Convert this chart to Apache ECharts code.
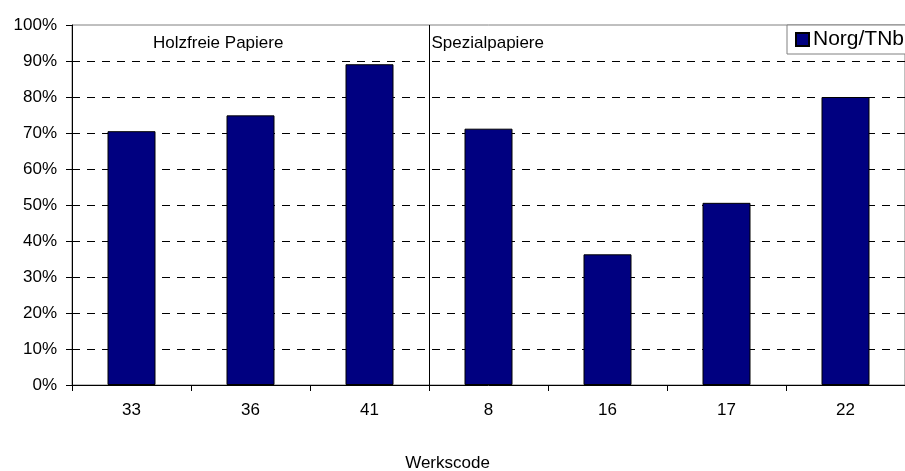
<!DOCTYPE html>
<html>
<head>
<meta charset="utf-8">
<script src="https://cdn.jsdelivr.net/npm/echarts@6/dist/echarts.min.js"></script>
<style>
  html, body { margin: 0; padding: 0; background: #fff; }
  #chart { width: 905px; height: 471px; }
</style>
</head>
<body>
<div id="chart"></div>
<script>
// Werkscode categories and the Norg/TNb share per plant
const categories = ['33', '36', '41', '8', '16', '17', '22'];
const norgTnb = [0.705, 0.749, 0.891, 0.712, 0.363, 0.506, 0.80];
const yTicks = [0, 0.1, 0.2, 0.3, 0.4, 0.5, 0.6, 0.7, 0.8, 0.9, 1.0];
const groupLabels = ['Holzfreie Papiere', 'Spezialpapiere'];
const seriesName = 'Norg/TNb';
const axisTitle = 'Werkscode';

const FONT = 'Liberation Sans, Arial, sans-serif';
const chart = echarts.init(document.getElementById('chart'), null, { renderer: 'canvas' });

// split lines: dashed for every tick, the top one hidden so the gray frame shows
const splitColors = yTicks.map((v, i) => (i === yTicks.length - 1 ? 'transparent' : '#000'));

chart.setOption({
  animation: false,
  backgroundColor: '#fff',
  textStyle: { fontFamily: FONT },
  grid: {
    left: 72, top: 25, width: 835, height: 360,
    show: true, borderColor: '#808080', borderWidth: 1, backgroundColor: 'transparent'
  },
  legend: {
    data: [seriesName],
    left: 787, top: 25,
    padding: [4, 30, 4, 8],
    backgroundColor: '#fff',
    borderColor: '#808080', borderWidth: 1,
    icon: 'rect', itemWidth: 13, itemHeight: 13, itemGap: 4,
    textStyle: { fontFamily: FONT, fontSize: 21, color: '#000', padding: [0, 0, 0, -1] }
  },
  xAxis: {
    type: 'category',
    data: categories,
    boundaryGap: true,
    axisLine: { lineStyle: { color: '#000', width: 1 } },
    axisTick: { show: true, length: 6, inside: false, alignWithLabel: false, lineStyle: { color: '#000' } },
    axisLabel: { fontFamily: FONT, fontSize: 17, color: '#000', margin: 17 },
    splitLine: { show: false }
  },
  yAxis: {
    type: 'value',
    min: 0, max: 1, interval: 0.1,
    axisLine: { show: true, lineStyle: { color: '#000', width: 1 } },
    axisTick: { show: true, length: 6, inside: false, lineStyle: { color: '#000' } },
    axisLabel: {
      fontFamily: FONT, fontSize: 17, color: '#000', margin: 15,
      formatter: v => Math.round(v * 100) + '%'
    },
    splitLine: { show: true, lineStyle: { color: splitColors, type: [8, 7], width: 1 } }
  },
  series: [{
    name: seriesName,
    type: 'bar',
    data: norgTnb,
    barWidth: 48,
    itemStyle: { color: '#000080', borderColor: '#000', borderWidth: 1 }
  }]
});

// separator between the two paper groups, plus group and axis titles
const xLeft = chart.convertToPixel({ xAxisIndex: 0 }, categories[2]);
const xRight = chart.convertToPixel({ xAxisIndex: 0 }, categories[3]);
const sepX = Math.round((xLeft + xRight) / 2) + 0.5;
const yTop = chart.convertToPixel({ yAxisIndex: 0 }, 1);
const yBottom = chart.convertToPixel({ yAxisIndex: 0 }, 0);
const plotLeft = chart.convertToPixel({ xAxisIndex: 0 }, categories[0]) - (xRight - xLeft) / 2;

chart.setOption({
  graphic: [
    {
      type: 'line', z: 5,
      shape: { x1: sepX, y1: yTop, x2: sepX, y2: yBottom + 6 },
      style: { stroke: '#000', lineWidth: 1 }
    },
    {
      type: 'text', z: 5,
      x: plotLeft + 81, y: yTop + 18,
      style: { text: groupLabels[0], font: '17px ' + FONT, fill: '#000', textAlign: 'left', textVerticalAlign: 'middle' }
    },
    {
      type: 'text', z: 5,
      x: sepX + 2, y: yTop + 18,
      style: { text: groupLabels[1], font: '17px ' + FONT, fill: '#000', textAlign: 'left', textVerticalAlign: 'middle' }
    },
    {
      type: 'text', z: 5,
      x: 447.5, y: 463,
      style: { text: axisTitle, font: '17px ' + FONT, fill: '#000', textAlign: 'center', textVerticalAlign: 'middle' }
    }
  ]
});
</script>
</body>
</html>
